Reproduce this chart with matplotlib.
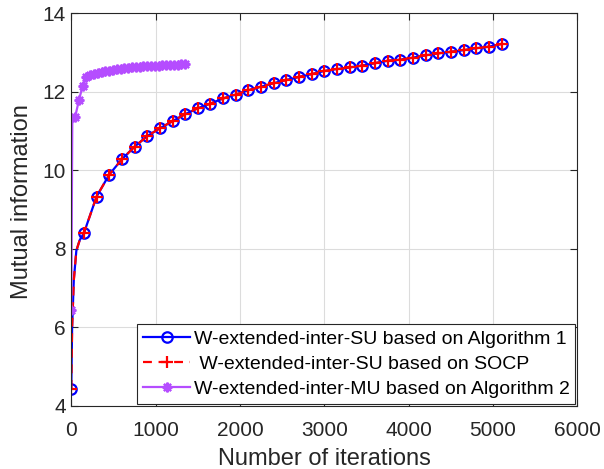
import numpy as np
import matplotlib
matplotlib.use('Agg')
from matplotlib import pyplot as plt

plt.rcParams['font.family'] = ['Liberation Sans', 'DejaVu Sans']

# single user (Algorithm 1 and SOCP give the same curve), marker every 150 iterations
su_iter = np.arange(0, 5101, 150)
su_mi = [4.43, 8.40, 9.33, 9.89, 10.28, 10.60, 10.87, 11.07, 11.25, 11.43,
         11.58, 11.70, 11.83, 11.93, 12.04, 12.13, 12.22, 12.30, 12.38, 12.45,
         12.53, 12.58, 12.62, 12.67, 12.73, 12.79, 12.82, 12.87, 12.93, 12.98,
         13.02, 13.06, 13.11, 13.15, 13.22]
# extra points on the steep start of the curve (no markers)
su_start_iter = [10, 30, 60, 100]
su_start_mi = [6.0, 7.2, 7.95, 8.22]

# multi user (Algorithm 2), marker every 45 iterations
mu_iter = np.arange(0, 1351, 45)
mu_mi = [6.45, 11.35, 11.78, 12.15, 12.38, 12.42, 12.45, 12.48, 12.50, 12.52,
         12.54, 12.56, 12.57, 12.59, 12.60, 12.61, 12.62, 12.63, 12.64, 12.65,
         12.65, 12.66, 12.67, 12.67, 12.68, 12.68, 12.69, 12.69, 12.69, 12.70,
         12.70]
mu_start_iter = [12]
mu_start_mi = [11.2]

labels = ['W-extended-inter-SU based on Algorithm 1',
          ' W-extended-inter-SU based on SOCP',
          'W-extended-inter-MU based on Algorithm 2']


def merge(mx, my, ex, ey):
    x = np.concatenate([mx, ex])
    y = np.concatenate([my, ey])
    order = np.argsort(x, kind='stable')
    is_marker = np.r_[np.ones(len(mx), bool), np.zeros(len(ex), bool)][order]
    return x[order], y[order], list(np.where(is_marker)[0])


sx, sy, s_mark = merge(su_iter, su_mi, su_start_iter, su_start_mi)
mx, my, m_mark = merge(mu_iter, mu_mi, mu_start_iter, mu_start_mi)

fig = plt.figure(figsize=(6.04, 4.69), dpi=100)
ax = fig.add_axes([0.118, 0.135, 0.838, 0.8366])

ax.plot(sx, sy, '-o', color='blue', lw=1.6, ms=7.5, mew=1.6,
        mfc='none', markevery=s_mark, label=labels[0])
ax.plot(sx, sy, '--+', color='red', lw=1.6, ms=8, mew=1.6,
        dashes=(4, 3), markevery=s_mark, label=labels[1])
ax.plot(mx, my, '-', marker=(8, 2, 0), color='#B54DFF', lw=1.6, ms=7, mew=1.6,
        markevery=m_mark, label=labels[2])

ax.set_xlim(0, 6000)
ax.set_ylim(4, 14)
ax.set_xticks(range(0, 6001, 1000))
ax.set_yticks(range(4, 15, 2))
ax.grid(True, color='#dcdcdc', lw=0.8)
ax.set_axisbelow(True)
ax.tick_params(direction='in', top=True, right=True, labelsize=15,
               colors='#262626', length=5, width=0.8)
ax.tick_params(axis='x', pad=11)
ax.tick_params(axis='y', pad=4)
for sp in ax.spines.values():
    sp.set_color('#262626')
    sp.set_linewidth(0.8)

ax.set_xlabel('Number of iterations', fontsize=17, color='#262626', labelpad=6)
ax.set_ylabel('Mutual information', fontsize=17, color='#262626')
ax.yaxis.set_label_coords(-0.076, 0.52)

leg = ax.legend(loc='lower right', fontsize=14, fancybox=False,
                edgecolor='#262626', framealpha=1, borderaxespad=0.1,
                handlelength=2.4, handletextpad=0.2, labelspacing=0.38,
                borderpad=0.3)
leg.get_frame().set_linewidth(0.8)

fig.savefig('out.png', dpi=100)
